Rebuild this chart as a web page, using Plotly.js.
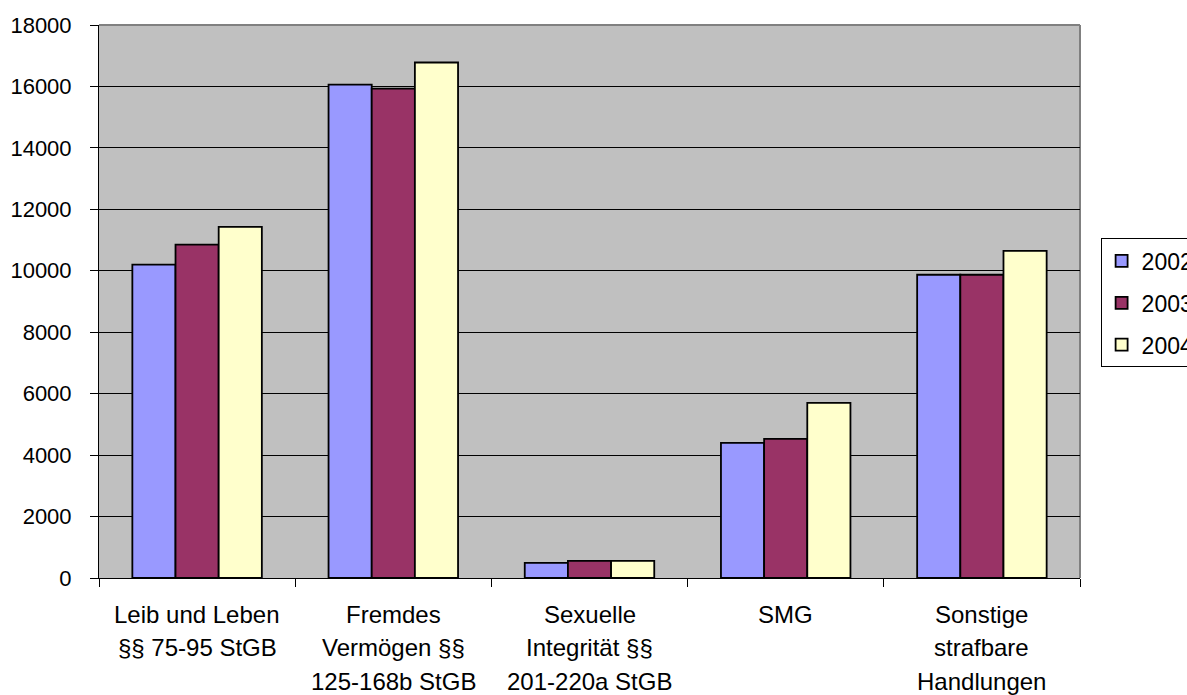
<!DOCTYPE html>
<html>
<head>
<meta charset="utf-8">
<script src="https://cdn.plot.ly/plotly-3.0.1.min.js"></script>
<style>html,body{margin:0;padding:0;background:#fff;}#chart{width:1187px;height:695px;}</style>
</head>
<body>
<div id="chart"></div>
<script>
// Categories (each label split into its printed lines)
var categories = ["Leib und Leben", "Fremdes Vermögen", "Sexuelle Integrität", "SMG", "Sonstige"];
var categoryLines = [
  ["Leib und Leben", "§§ 75-95 StGB"],
  ["Fremdes", "Vermögen §§", "125-168b StGB"],
  ["Sexuelle", "Integrität §§", "201-220a StGB"],
  ["SMG"],
  ["Sonstige", "strafbare", "Handlungen"]
];
var seriesNames = ["2002", "2003", "2004"];
var values2002 = [10200, 16060, 490, 4400, 9870];
var values2003 = [10850, 15930, 560, 4530, 9870];
var values2004 = [11430, 16780, 560, 5700, 10650];
var yTicks = [0, 2000, 4000, 6000, 8000, 10000, 12000, 14000, 16000, 18000];

var colors = ["#9999FF", "#993366", "#FFFFCC"];
var allValues = [values2002, values2003, values2004];

var traces = allValues.map(function (vals, i) {
  return {
    type: "bar",
    name: seriesNames[i],
    x: categories,
    y: vals,
    legendgroup: "g" + i,
    marker: { color: colors[i], line: { color: "#000000", width: 1.8 } },
    hoverinfo: "x+y+name"
  };
});

var annotations = [];
categoryLines.forEach(function (lines, ci) {
  lines.forEach(function (txt, li) {
    annotations.push({
      x: categories[ci], xref: "x",
      y: 0, yref: "paper",
      yanchor: "middle", xanchor: "center",
      yshift: -(36 + li * 33.5),
      text: txt, showarrow: false,
      font: { family: "Liberation Sans, Arial, sans-serif", size: 24, color: "#000" }
    });
  });
});

var layout = {
  width: 1187, height: 695,
  margin: { l: 99, r: 107, t: 25, b: 117, pad: 0, autoexpand: false },
  paper_bgcolor: "#FFFFFF",
  plot_bgcolor: "#C0C0C0",
  font: { family: "Liberation Sans, Arial, sans-serif", size: 22, color: "#000" },
  barmode: "group",
  bargap: 0.34,
  bargroupgap: 0,
  showlegend: true,
  legend: {
    x: 1.021, xanchor: "left", xref: "paper",
    y: 0.614, yanchor: "top", yref: "paper",
    bgcolor: "#FFFFFF", bordercolor: "#000000", borderwidth: 1,
    font: { size: 23, color: "#000" },
    traceorder: "grouped", tracegroupgap: 9,
    itemclick: false
  },
  xaxis: {
    type: "category",
    showticklabels: false,
    tickson: "boundaries",
    ticks: "outside", ticklen: 8, tickcolor: "#000", tickwidth: 1,
    showline: true, linecolor: "#000", linewidth: 1,
    showgrid: false, zeroline: false
  },
  yaxis: {
    range: [0, 18000],
    tickvals: yTicks,
    ticktext: yTicks.map(String),
    ticks: "outside", ticklen: 8, tickcolor: "#000", tickwidth: 1,
    ticklabelstandoff: 14,
    showline: true, linecolor: "#000", linewidth: 1,
    showgrid: true, gridcolor: "#000000", gridwidth: 1,
    zeroline: false,
    tickfont: { size: 22, color: "#000" }
  },
  shapes: [
    { type: "line", xref: "paper", yref: "paper", x0: 0, x1: 1, y0: 1, y1: 1, line: { color: "#808080", width: 2 }, layer: "below" },
    { type: "line", xref: "paper", yref: "paper", x0: 1, x1: 1, y0: 0, y1: 1, line: { color: "#808080", width: 2 }, layer: "below" }
  ],
  annotations: annotations
};

Plotly.newPlot("chart", traces, layout, { displayModeBar: false, staticPlot: true });
</script>
</body>
</html>
